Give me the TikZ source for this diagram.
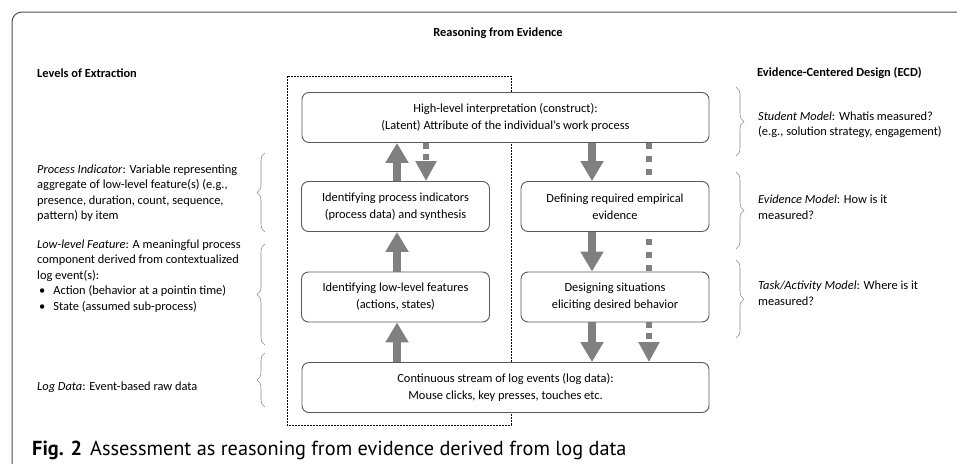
\documentclass[tikz,border=0pt]{standalone}
\usepackage{fontspec}
\setmainfont{Carlito}
\newfontfamily\capfont{PT Sans}
\usetikzlibrary{arrows.meta,decorations.pathreplacing}

\tikzset{
  stage/.style={draw=black!65, fill=white, line width=0.9pt, rounded corners=7pt, align=center, inner sep=2pt,
    font=\fontsize{12.4}{17}\selectfont},
  wide/.style={stage, minimum width=407pt, minimum height=50pt},
  half/.style={stage, minimum width=188pt, minimum height=50pt},
  flow/.style={draw=black!50, line width=8pt, -{Triangle[length=20pt,width=22pt]}},
  hint/.style={draw=black!50, line width=6pt, dash pattern=on 6pt off 7pt},
  hintarrow/.style={hint, dash pattern=on 6pt off 5pt, -{Triangle[length=20pt,width=20pt]}},
  note/.style={anchor=west, align=left, inner sep=0pt, font=\fontsize{12.4}{15.5}\selectfont},
  grp/.style={draw=black!45, line width=0.6pt, decorate, decoration={brace, amplitude=8pt}},
  frame/.style={draw=black!70, line width=1pt, rounded corners=10pt}
}

\begin{document}
\begin{tikzpicture}[x=1pt,y=-1pt]
\useasboundingbox (0,0) rectangle (957,463);
\draw[frame] (12,470) -- (12,12) -- (965,12);

\node[font=\bfseries\fontsize{12.4}{15}\selectfont] (title) at (498,33) {Reasoning from Evidence};
\node[note, font=\bfseries\fontsize{12.4}{15}\selectfont] (lhead) at (37,73) {Levels of Extraction};
\node[note, font=\bfseries\fontsize{12.4}{15}\selectfont] (rhead) at (757,73) {Evidence-Centered Design (ECD)};

\draw[black, line width=0.7pt, dash pattern=on 2pt off 1pt] (287,76) rectangle (511,425);

\node[wide] (hi) at (505.5,117.5) {High-level interpretation (construct):\\(Latent) Attribute of the individual’s work process};
\node[half] (ind) at (395.5,206.5) {Identifying process indicators\\(process data) and synthesis};
\node[half] (evd) at (615,206.5) {Defining required empirical\\evidence};
\node[half] (feat) at (395.5,297) {Identifying low-level features\\(actions, states)};
\node[half] (sit) at (615,297) {Designing situations\\eliciting desired behavior};
\node[wide] (log) at (505.5,387.5) {Continuous stream of log events (log data):\\Mouse clicks, key presses, touches etc.};

\draw[flow] ([xshift=1.5pt]ind.north) -- ([xshift=1.5pt]ind.north |- hi.south);
\draw[hintarrow] ([xshift=30.5pt]ind.north |- hi.south) -- ([xshift=30.5pt]ind.north);
\draw[flow] ([xshift=1.5pt]feat.north) -- ([xshift=1.5pt]ind.south);
\draw[flow] ([xshift=1.5pt]feat.south |- log.north) -- ([xshift=1.5pt]feat.south);
\draw[flow] ([xshift=-23pt]evd.north |- hi.south) -- ([xshift=-23pt]evd.north);
\draw[hint] ([xshift=34pt]evd.north |- hi.south) -- ([xshift=34pt]evd.north);
\draw[flow] ([xshift=-23pt]evd.south) -- ([xshift=-23pt]sit.north);
\draw[hint, dash phase=6pt] ([xshift=34pt]evd.south) -- ([xshift=34pt]sit.north);
\draw[flow] ([xshift=-23pt]sit.south) -- ([xshift=-23pt]sit.south |- log.north);
\draw[hintarrow] ([xshift=34pt]sit.south) -- ([xshift=34pt]sit.south |- log.north);

\draw[grp] (265,232) -- (265,153);
\draw[grp] (265,345) -- (265,244);
\draw[grp] (265,407) -- (265,353);
\draw[grp] (736,87) -- (736,156);
\draw[grp] (736,172) -- (736,249);
\draw[grp] (736,260) -- (736,338);

\node[note] (pind) at (37,193) {\textit{Process Indicator}: Variable representing\\aggregate of low-level feature(s) (e.g.,\\presence, duration, count, sequence,\\pattern) by item};
\node[note] (lfeat) at (37,276) {\textit{Low-level Feature}: A meaningful process\\component derived from contextualized\\log event(s):\\\hspace*{2pt}\textbullet\hspace{8pt}Action (behavior at a pointin time)\\\hspace*{2pt}\textbullet\hspace{8pt}State (assumed sub-process)};
\node[note] (ldata) at (37,387) {\textit{Log Data}: Event-based raw data};
\node[note] (smod) at (758,125) {\textit{Student Model}: Whatis measured?\\(e.g., solution strategy, engagement)};
\node[note] (emod) at (758,207) {\textit{Evidence Model}: How is it\\measured?};
\node[note] (tmod) at (758,293) {\textit{Task/Activity Model}: Where is it\\measured?};

\node[anchor=base west, inner sep=0pt, font=\capfont\fontsize{20.3}{24}\selectfont] (cap) at (32,455) {\textbf{Fig. 2}\hspace{8pt}Assessment as reasoning from evidence derived from log data};
\end{tikzpicture}
\end{document}
